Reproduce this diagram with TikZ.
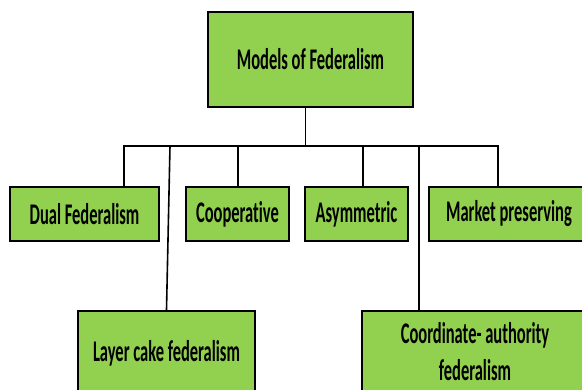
\documentclass[tikz,border=0pt]{standalone}
\usepackage{fontspec}
\usepackage{xcolor}
\newfontfamily\boxfont{Carlito}[FakeStretch=0.55, Ligatures=NoCommon]
\definecolor{boxgreen}{RGB}{146,208,80}

\begin{document}
\begin{tikzpicture}[x=1pt,y=-1pt,
    box/.style={draw=black, fill=boxgreen, line width=2pt, inner sep=0pt, align=center,
        font=\boxfont\bfseries\fontsize{30}{37}\selectfont},
    link/.style={line width=1.6pt}]
    \clip (0,0) rectangle (582,389);

    \node[box, minimum width=205pt, minimum height=95pt] (models) at (310.5,59.5) {Models of Federalism};

    \node[box, minimum width=149pt, minimum height=54pt] (dual) at (84.5,214) {Dual Federalism};
    \node[box, minimum width=103pt, minimum height=54pt] (coop) at (237.5,214) {Cooperative};
    \node[box, minimum width=103pt, minimum height=54pt] (asym) at (356.5,214) {Asymmetric};
    \node[box, minimum width=160pt, minimum height=54pt] (market) at (509,214) {Market preserving};

    \node[box, minimum width=177pt, minimum height=84pt] (layer) at (166.5,353) {Layer cake federalism};
    \node[box, minimum width=226pt, minimum height=82pt] (coord) at (475,352) {Coordinate- authority\\federalism};

    \coordinate (hub) at (305,146);
    \coordinate (b1) at (124,146);
    \coordinate (b2) at (170,146);
    \coordinate (b3) at (238,146);
    \coordinate (b4) at (363,146);
    \coordinate (b5) at (419,146);
    \coordinate (b6) at (498,146);

    \draw[line width=0.8pt] (models.south -| hub) -- (hub);
    \draw[link] (dual.north -| b1) -- (b1) -- (b6) -- (b6 |- market.north);
    \draw[link] (b2) -- (layer.north);
    \draw[link] (b3) -- (b3 |- coop.north);
    \draw[link] (b4) -- (b4 |- asym.north);
    \draw[link] (b5) -- (b5 |- coord.north);
\end{tikzpicture}
\end{document}
